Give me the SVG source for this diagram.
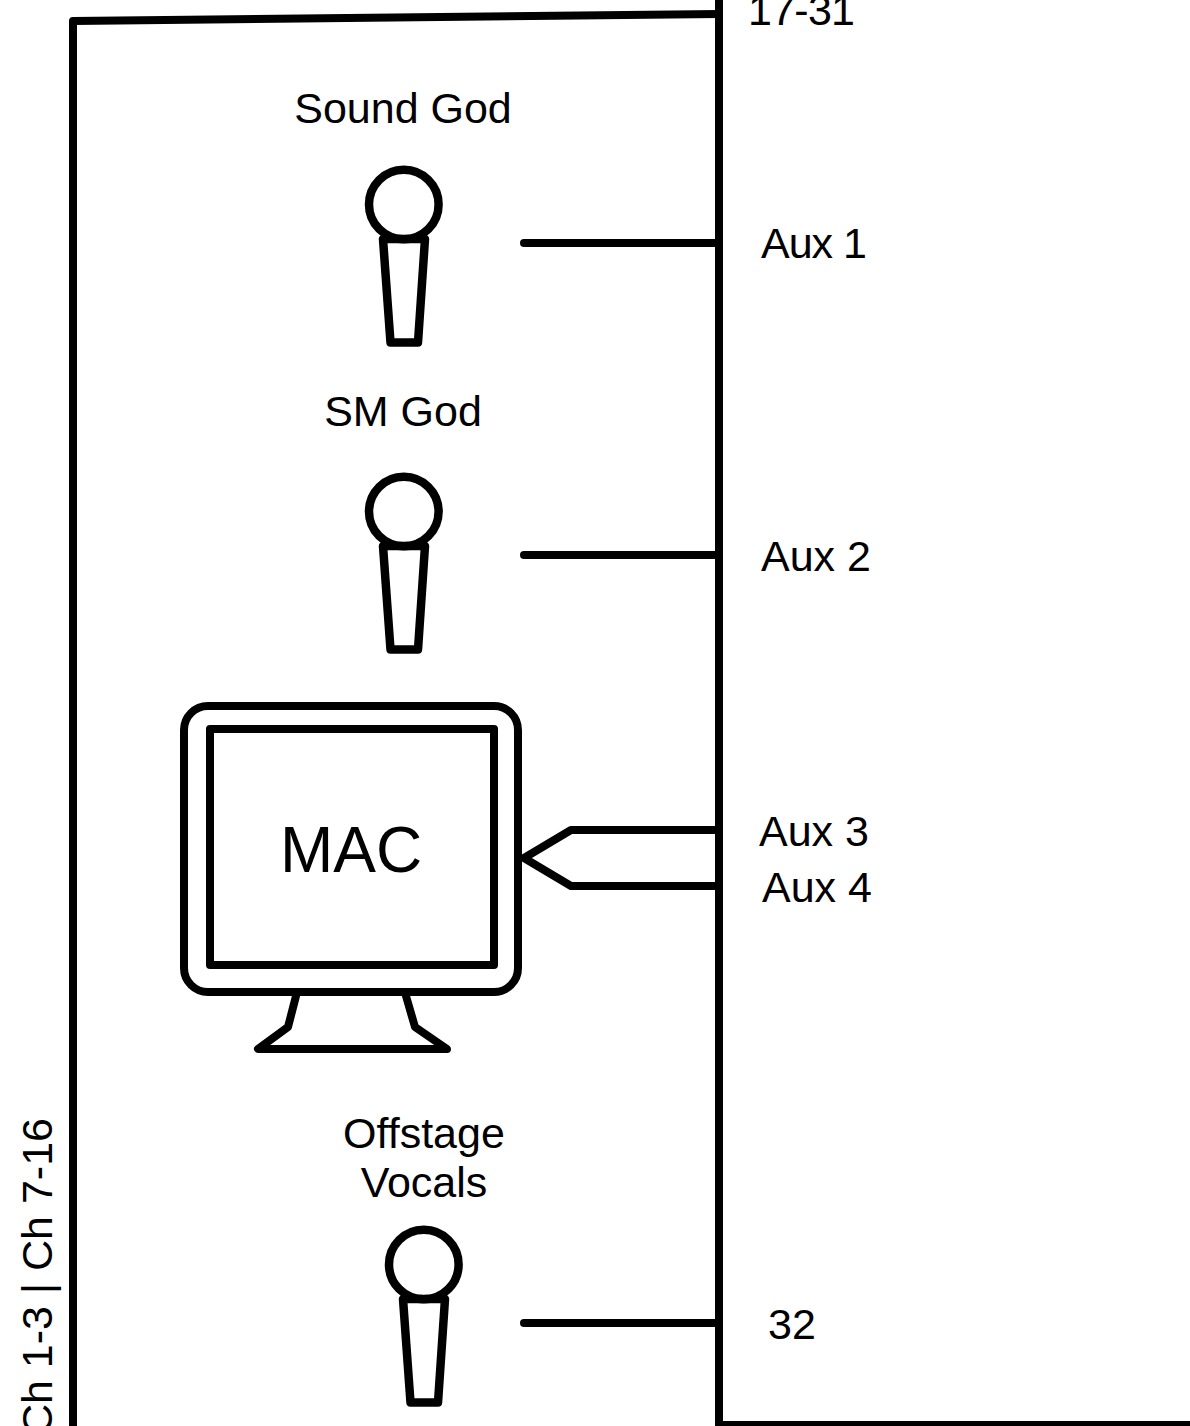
<svg xmlns="http://www.w3.org/2000/svg" width="1190" height="1426" viewBox="0 0 1190 1426">
<style>
.l{fill:none;stroke:#000;stroke-width:8;stroke-linejoin:round;stroke-linecap:round}
.k{stroke-width:8.500}
.t{font-family:"Liberation Sans",Arial,sans-serif;font-size:43px;fill:#000}
.m{text-anchor:middle}
</style>
<defs>
<g id="mic">
<circle class="l k" cx="403.800" cy="204.500" r="34.800"/>
<path class="l k" d="M383 239H425L418 342.500H390.500Z"/>
</g>
</defs>
<rect width="1190" height="1426" fill="#fff"/>
<g id="connectors">
<path class="l" d="M524 243H719"/>
<path class="l" d="M524 555H719"/>
<path class="l" d="M524 1323H719"/>
<path class="l" style="stroke-linecap:butt" d="M719 830H571L524 858L571 886H719"/>
</g>
<g id="frame">
<path class="l" style="stroke-linecap:butt" d="M73 1430V21L719 14"/>
<path class="l" style="stroke-linecap:butt" d="M719 -4V1425H1194"/>
</g>
<g id="sound-god"><text class="t m" x="403" y="123">Sound God</text><use href="#mic"/></g>
<g id="sm-god"><text class="t m" x="403" y="426">SM God</text><use href="#mic" y="307"/></g>
<g id="mac">
<rect class="l" x="184" y="706" width="334" height="286" rx="24"/>
<rect class="l" x="210" y="729" width="284" height="236"/>
<path class="l" d="M296 996L288 1027L258 1049H447L415 1027L406 996"/>
<text class="t m" style="font-size:64px" x="351" y="872">MAC</text>
</g>
<g id="offstage-vocals">
<text class="t m" x="424" y="1148">Offstage</text>
<text class="t m" x="424" y="1197">Vocals</text>
<use href="#mic" x="20" y="1060"/>
</g>
<g id="labels">
<text class="t" x="748" y="25" textLength="107">17-31</text>
<text class="t" x="761" y="258" textLength="106">Aux 1</text>
<text class="t" x="761" y="571">Aux 2</text>
<text class="t" x="759" y="846">Aux 3</text>
<text class="t" x="762" y="902">Aux 4</text>
<text class="t" x="768" y="1339">32</text>
<text class="t" text-anchor="end" transform="translate(52 1118) rotate(-90)">Ch 1-3 | Ch 7-16</text>
</g>
</svg>
